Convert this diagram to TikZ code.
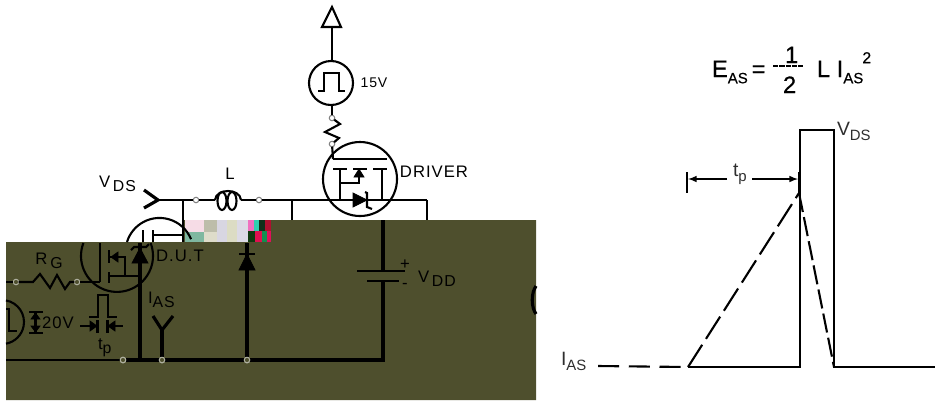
\documentclass[tikz,border=0pt]{standalone}
\usepackage{fontspec}
\setmainfont{Liberation Sans}
\newfontfamily\widefont[LetterSpace=6]{Liberation Sans}
\newfontfamily\eqnfont[FakeBold=0.5]{Liberation Sans}
\definecolor{olive}{HTML}{4E4F2D}
\definecolor{inktext}{HTML}{2E2E2E}
\newcommand{\lowtext}[2]{\raisebox{-0.5ex}{\fontsize{#1}{#1}\selectfont #2}}
\newcommand{\patch}[3]{\definecolor{patchcol}{HTML}{#1}\fill[patchcol] (#2) rectangle (#3);}
\begin{document}
\begin{tikzpicture}[x=0.02cm, y=-0.02cm]
\tikzset{ >=latex, inner sep=0pt, outer sep=0pt,
  wire/.style={line width=1.2pt, black},
  bus/.style={line width=1.8pt, black},
  term/.style={draw=gray, line width=0.6pt, circle, minimum size=0.11cm},
  joint/.style={draw=olive!45!white, fill=olive, line width=0.6pt, circle, minimum size=0.11cm},
  lab/.style={font=\widefont\fontsize{9.5}{10}\selectfont, text=black},
  tag/.style={font=\fontsize{11}{12}\selectfont, text=inktext, anchor=base west},
  eqn/.style={font=\eqnfont\fontsize{13.5}{14}\selectfont, text=black, anchor=base west},
  solid tri/.style={fill=black, draw=black, line width=0.4pt},
}
\useasboundingbox (0,0) rectangle (935,400);

% covered part of the schematic
\fill[olive] (6,242) -- (183,242) -- (183,220) -- (536,220) -- (536,400) -- (6,400) -- cycle;
\patch{F6DCE6}{185,220}{204,232}
\patch{7FB8A0}{185,232}{204,242}
\patch{BDBDAA}{204,220}{217,232}
\patch{DEDCCA}{204,232}{217,242}
\patch{D8D6E2}{217,220}{227,242}
\patch{DCDCC4}{227,220}{237,242}
\patch{DCDAE6}{237,220}{248,242}
\patch{F070C0}{248,220}{254,231}
\patch{30D0B0}{254,220}{259,231}
\patch{10301A}{259,220}{265,231}
\patch{B01030}{265,220}{271,231}
\patch{103A10}{248,231}{255,242}
\patch{E01050}{255,231}{262,242}
\patch{109050}{262,231}{267,242}
\patch{E0105A}{267,231}{271,242}

\coordinate (VDSin) at (158,200);
\coordinate (Lin) at (215,200);
\coordinate (Lout) at (241,200);
\coordinate (Tap) at (183,200);
\coordinate (TapB) at (183,242);
\coordinate (Rail) at (292,200);
\coordinate (RailB) at (292,220);
\coordinate (Src) at (427,200);
\coordinate (SrcB) at (427,220);
\coordinate (Top) at (332,27);
\coordinate (PulseT) at (332,61);
\coordinate (PulseB) at (332,105);
\coordinate (DrvG) at (333,159);

% driver side
\draw [wire] (322,27) -- (332,7) -- (341,27) -- cycle;
\draw [wire] (Top) -- (PulseT);
\draw [wire] (331,83) circle [radius=22];
\draw [wire] (318,91) -- (324,91) -- (324,73) -- (339,73) -- (339,91) -- (345,91);
\draw [wire] (360,179) circle [radius=37];
\draw [wire] (DrvG) -- (387,159);
\draw [wire] (333,169) -- (347,169);
\draw [wire] (353,169) -- (367,169);
\draw [wire] (373,169) -- (387,169);
\draw [wire] (340,169) -- (340,200);
\draw [wire] (382,169) -- (382,200);
\draw [wire] (340,183) -- (359,183) -- (359,169);
\fill [solid tri] (359,169) -- (354,177) -- (364,177) -- cycle;
\fill [solid tri] (353,193) -- (367,200) -- (353,207) -- cycle;
\draw [wire] (365,192) -- (367,193) -- (367,207) -- (372,209);

% terminals and junctions
\node [term] (A) at (196,200) {};
\node [term] (B) at (259,200) {};
\node [term] (C) at (332,118) {};
\node [term] (D) at (332,144) {};
\node [joint] (G1) at (16,282) {};
\node [joint] (G2) at (77,282) {};
\node [joint] (K) at (123,360) {};
\node [joint] (M) at (162,360) {};
\node [joint] (P) at (247,360) {};

\draw [wire] (PulseB) -- (C);
\draw [wire] (C) -- (340,124) -- (325,132) -- (339,138) -- (D);
\draw [wire] (D) -- (DrvG);

% main rail
\draw [bus] (144,190) -- (VDSin) -- (144,208);
\draw [wire] (VDSin) -- (A);
\draw [wire] (A) -- (Lin);
\draw [wire] (Lout) -- (B);
\draw [wire] (B) -- (Src);
\draw [wire] (Lin) .. controls (216,188) and (240,188) .. (Lout);
\draw [wire] (222,201) ellipse [x radius=4.5, y radius=9];
\draw [wire] (232,201) ellipse [x radius=4.5, y radius=9];
\draw [wire] (Tap) -- (TapB);
\draw [wire] (Rail) -- (RailB);
\draw [wire] (Src) -- (SrcB);

% D.U.T top part
\draw [wire] (127,242) arc [start angle=197, end angle=338, radius=34];
\draw [wire] (143,230) -- (143,242);
\draw [wire] (153,230) -- (153,242);
\draw [wire] (153,235) -- (183,235);

% D.U.T lower part
\draw [wire] (83.4,243) arc [start angle=201, end angle=-21, radius=36];
\draw [wire] (100,243) -- (100,282);
\draw [wire] (G1) -- (6,282);
\draw [wire] (G1) -- (33,282) -- (40,274) -- (50,288) -- (57,275) -- (65,289) -- (70,282) -- (G2);
\draw [wire] (G2) -- (100,282);
\draw [wire] (109,250) -- (109,263);
\draw [wire] (109,272) -- (109,283);
\draw [wire] (109,257) -- (125,257) -- (125,276);
\draw [wire] (109,276) -- (140,276);
\fill [solid tri] (111,257) -- (118,252) -- (118,262) -- cycle;
\draw [bus] (140,243) -- (140,361);
\fill [solid tri] (140,248) -- (132,263) -- (148,263) -- cycle;
\draw [wire] (131,250) -- (134,247) -- (146,247) -- (149,244);

% lower rail
\draw [wire] (6,360) -- (K);
\draw [bus] (K) -- (383,360) -- (383,220);
\draw [bus] (M) -- (162,330);
\draw [bus] (153,316) -- (162,330) -- (173,316);
\draw [bus] (P) -- (247,243);
\fill [solid tri] (247,254) -- (239,270) -- (255,270) -- cycle;
\draw [wire] (239,254) -- (255,254);
\node [joint] (K2) at (K) {};
\node [joint] (M2) at (M) {};
\node [joint] (P2) at (P) {};

% supply
\draw [fill=olive, draw=olive] (376,272) rectangle (390,280);
\draw [wire] (357,271) -- (405,271);
\draw [wire] (367,281) -- (399,281);

% gate pulse generator
\draw [wire] (6,300.4) arc [start angle=-79.5, end angle=79.5, radius=22];
\draw [wire] (6,309) -- (9,309) -- (9,331) -- (17,331);
\draw [wire] (29,312) -- (43,312);
\draw [wire] (29,333) -- (43,333);
\draw [wire] (35.5,312) -- (35.5,333);
\fill [solid tri] (35.5,313) -- (31,319) -- (40,319) -- cycle;
\fill [solid tri] (35.5,332) -- (31,326) -- (40,326) -- cycle;
\draw [wire] (89,317) -- (98,317) -- (98,295) -- (108,295) -- (108,317) -- (117,317);
\draw [wire] (80,326) -- (90,326);
\draw [wire] (115,326) -- (123,326);
\fill [solid tri] (97,326) -- (90,321) -- (90,331) -- cycle;
\fill [solid tri] (108,326) -- (115,321) -- (115,331) -- cycle;
\draw [wire] (97.5,320) -- (97.5,333);
\draw [wire] (107.5,320) -- (107.5,333);

% cut circle at the edge
\draw [bus] (536,286) .. controls (531,293) and (531,307) .. (536,314);

% labels of the schematic
\node [lab] (l15) at (374,83) {\fontsize{8}{9}\selectfont 15V};
\node [lab] (lL) at (230,174) {L};
\node [lab] (lDrv) at (434,172) {DRIVER};
\node [lab, anchor=base west] (lVds) at (99,187) {V\,\lowtext{9}{DS}};
\node [lab] (lRg) at (49,261) {R\,\lowtext{9}{G}};
\node [lab] (lDut) at (180,256) {D.U.T};
\node [lab, anchor=base west] (lIas) at (148,303) {I\lowtext{9}{AS}};
\node [lab] (l20) at (58,323) {20V};
\node [lab, anchor=base west] (ltp) at (98,349) {t\lowtext{9}{p}};
\node [lab, anchor=base west] (lVdd) at (418,282) {V\,\lowtext{9}{DD}};
\node [lab] (lplus) at (405,265) {+};
\node [lab] (lminus) at (405,286) {-};

% waveform
\coordinate (W0) at (688,367);
\coordinate (W1) at (800,367);
\coordinate (W2) at (800,130);
\coordinate (W3) at (834,130);
\coordinate (W4) at (834,367);
\coordinate (W5) at (935,367);
\coordinate (Peak) at (799,193);
\coordinate (Dash0) at (598,366);
\coordinate (Tick0) at (687,172);
\coordinate (Tick1) at (687,193);
\coordinate (Tock0) at (799,172);

\draw [wire] (W0) -- (W1) -- (W2) -- (W3) -- (W4) -- (W5);
\draw [wire, dash pattern=on 12pt off 5.5pt] (Dash0) -- (W0);
\draw [wire, dash pattern=on 15pt off 4pt] (W0) -- (Peak);
\draw [wire, dash pattern=on 11pt off 3pt] (Peak) -- (W4);
\draw [wire] (Tick0) -- (Tick1);
\draw [wire] (Tock0) -- (Peak);
\draw [->, line width=0.7pt] (727,179) -- (688,179);
\draw [->, line width=0.7pt] (752,179) -- (798,179);

\node [tag] (ltpb) at (733,176) {t\lowtext{8.5}{p}};
\node [tag] (lVdsb) at (837,135) {V\lowtext{8.5}{DS}};
\node [tag] (lIasb) at (561,365) {I\lowtext{8.5}{AS}};

% energy formula
\coordinate (FracL) at (773,66);
\coordinate (FracR) at (803,66);
\draw [line width=0.8pt, dash pattern=on 3pt off 0.6pt] (FracL) -- (FracR);
\node [eqn] (lE) at (712,77) {E\lowtext{8.5}{AS}\,=};
\node [eqn] (lOne) at (785,63) {1};
\node [eqn] (lTwo) at (783,93) {2};
\node [eqn] (lL2) at (817,77) {L I\lowtext{8.5}{AS}\hspace{-0.5pt}\raisebox{1.1ex}{\fontsize{9}{9}\selectfont 2}};

\end{tikzpicture}
\end{document}
